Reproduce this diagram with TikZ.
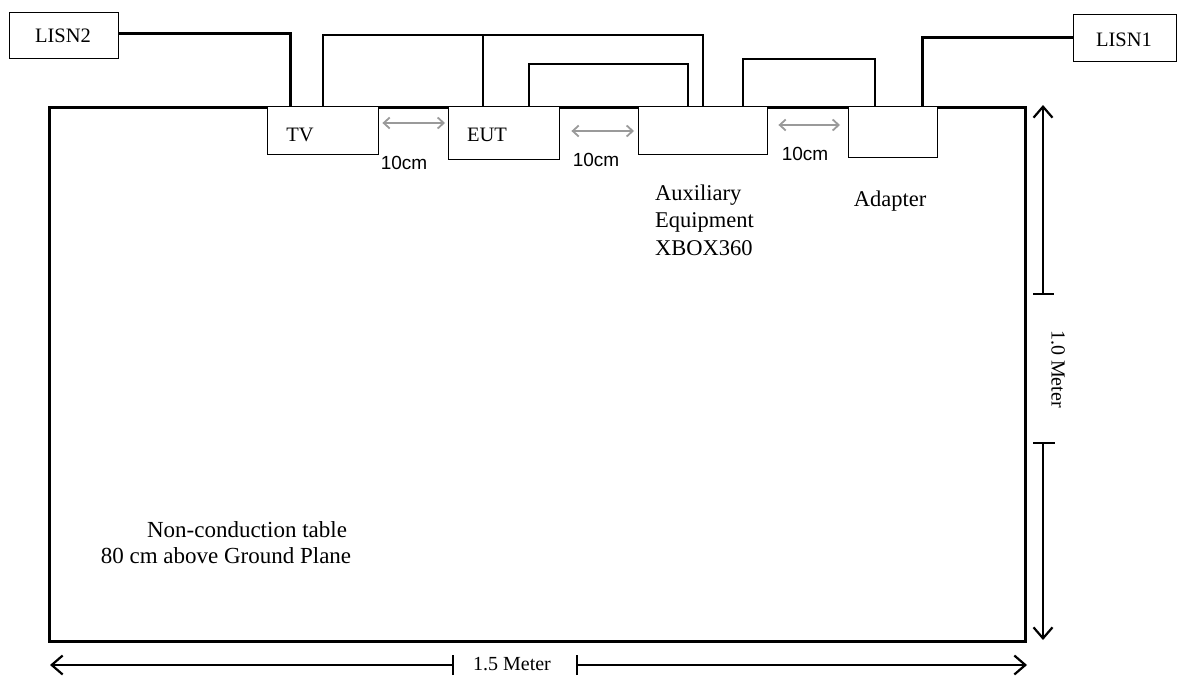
\documentclass[tikz,border=0pt]{standalone}
\usepackage{fontspec}
\setmainfont{Liberation Serif}
\newfontfamily\arialfont{Liberation Sans}
\usetikzlibrary{arrows.meta}
\definecolor{arrgray}{HTML}{9A9A9A}
\begin{document}
\begin{tikzpicture}[x=1pt,y=-1pt,
  boxstyle/.style={draw,line width=1.4pt,fill=white,inner sep=0pt,anchor=north west},
  lbl/.style={inner sep=0pt,font=\fontsize{20.5}{24}\selectfont},
  biglbl/.style={inner sep=0pt,font=\fontsize{22.5}{27.5}\selectfont},
  cmlbl/.style={inner sep=0pt,font=\arialfont\fontsize{19}{22}\selectfont},
  power/.style={line width=3pt},
  cable/.style={line width=1.4pt},
  gap/.style={arrgray,line width=1.8pt,{Straight Barb[length=6pt,width=11pt]}-{Straight Barb[length=6pt,width=11pt]}},
  dim/.style={line width=1.6pt},
  dimtip/.style={-{Straight Barb[length=11pt,width=19pt,line width=2.2pt]}}
]
\useasboundingbox (0,0) rectangle (1177,680);
% table
\node[draw,line width=3pt,inner sep=0pt,anchor=north west,minimum width=976pt,minimum height=534pt] (table) at (48,106) {};
% boxes
\node[boxstyle,minimum width=109pt,minimum height=46pt] (lisn2) at (9,12) {};
\node[lbl] (lisn2t) at (63,36) {LISN2};
\node[boxstyle,minimum width=103pt,minimum height=47pt] (lisn1) at (1072.5,14) {};
\node[lbl] (lisn1t) at (1124,40) {LISN1};
\node[boxstyle,minimum width=111pt,minimum height=48pt] (tv) at (267,106) {};
\node[lbl] (tvt) at (300,135) {TV};
\node[boxstyle,minimum width=111pt,minimum height=53pt] (eut) at (448,106) {};
\node[lbl] (eutt) at (487,135) {EUT};
\node[boxstyle,minimum width=129pt,minimum height=48pt] (aux) at (638,106) {};
\node[boxstyle,minimum width=89pt,minimum height=51pt] (adapter) at (848,106) {};
% power cables
\coordinate (p2) at (290,33);
\coordinate (p1) at (922,37);
\draw[power] (lisn2.east |- p2) -- (p2) -- (p2 |- tv.north);
\draw[power] (lisn1.west |- p1) -- (p1) -- (p1 |- adapter.north);
% signal cables
\coordinate (c1a) at (323,35);
\coordinate (c1b) at (703,35);
\coordinate (c1c) at (483,35);
\draw[cable] (c1a |- tv.north) -- (c1a) -- (c1b) -- (c1b |- aux.north);
\draw[cable] (c1c) -- (c1c |- eut.north);
\coordinate (c2a) at (529,64);
\coordinate (c2b) at (688,64);
\draw[cable] (c2a |- eut.north) -- (c2a) -- (c2b) -- (c2b |- aux.north);
\coordinate (c3a) at (743,59);
\coordinate (c3b) at (875,59);
\draw[cable] (c3a |- aux.north) -- (c3a) -- (c3b) -- (c3b |- adapter.north);
% gap arrows
\draw[gap] ([xshift=3pt,yshift=-17pt]tv.north east) -- ([xshift=-3pt,yshift=-17pt]eut.north west);
\draw[gap] ([xshift=11pt,yshift=-25pt]eut.north east) -- ([xshift=-4pt,yshift=-25pt]aux.north west);
\draw[gap] ([xshift=10pt,yshift=-19pt]aux.north east) -- ([xshift=-8pt,yshift=-19pt]adapter.north west);
\node[cmlbl] (g1) at (404,163) {10cm};
\node[cmlbl] (g2) at (596,160) {10cm};
\node[cmlbl] (g3) at (805,154) {10cm};
% labels
\node[biglbl,align=left,anchor=west] (auxt) at (655,220) {Auxiliary\\Equipment\\XBOX360};
\node[biglbl] (adt) at (890,201) {Adapter};
\node[biglbl,font=\fontsize{23}{27}\selectfont] (nc1) at (247,530) {Non-conduction table};
\node[biglbl,font=\fontsize{23}{27}\selectfont] (nc2) at (226,556) {80 cm above Ground Plane};
% vertical dimension
\coordinate (vt) at (1043,105);
\coordinate (vu) at (1043,294);
\coordinate (vl) at (1043,443);
\coordinate (vb) at (1043,640);
\draw[dim,dimtip] (vu) -- (vt);
\draw[dim,dimtip] (vl) -- (vb);
\draw[dim] ([xshift=-10pt]vu) -- ([xshift=11pt]vu);
\draw[dim] ([xshift=-10pt]vl) -- ([xshift=12pt]vl);
\node[lbl,font=\fontsize{20}{22}\selectfont,rotate=-90] (vm) at (1058,369) {1.0 Meter};
% horizontal dimension
\coordinate (hl) at (50,665);
\coordinate (hlm) at (453,665);
\coordinate (hrm) at (577,665);
\coordinate (hr) at (1027,665);
\draw[dim,dimtip] (hlm) -- (hl);
\draw[dim,dimtip] (hrm) -- (hr);
\draw[dim] ([yshift=-10pt]hlm) -- ([yshift=10pt]hlm);
\draw[dim] ([yshift=-10pt]hrm) -- ([yshift=10pt]hrm);
\node[lbl,font=\fontsize{20}{22}\selectfont] (hm) at (512,664) {1.5 Meter};
\end{tikzpicture}
\end{document}
